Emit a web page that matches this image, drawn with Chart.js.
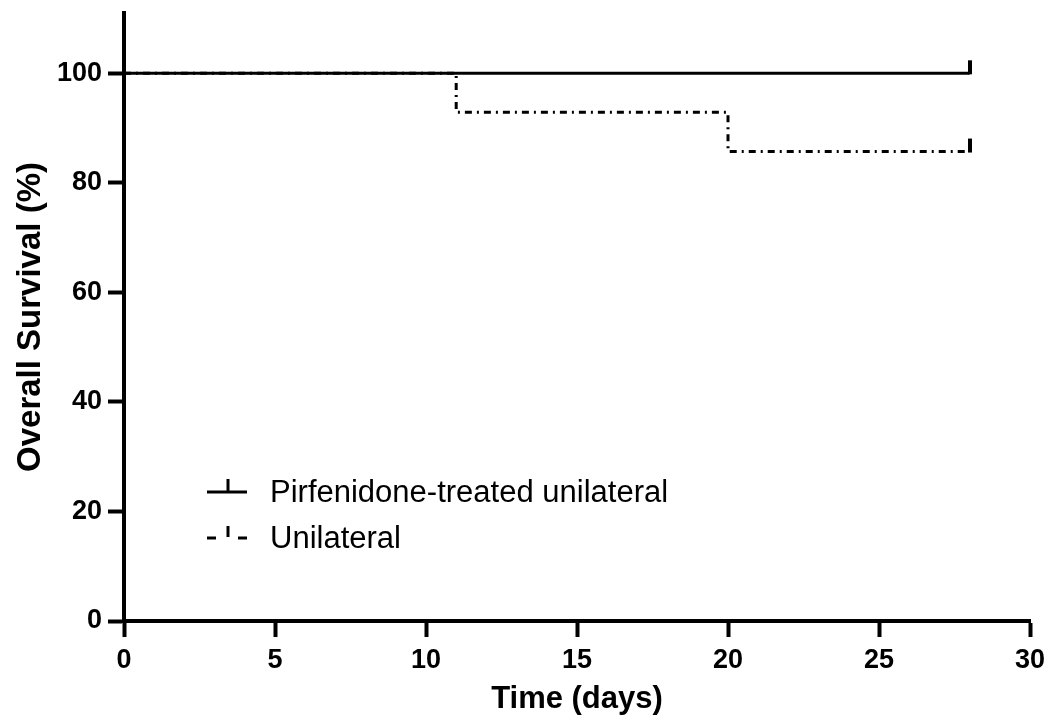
<!DOCTYPE html>
<html>
<head>
<meta charset="utf-8">
<script src="https://cdn.jsdelivr.net/npm/chart.js@4.4.1/dist/chart.umd.min.js"></script>
<style>
  body { margin: 0; background: #fff; }
  #wrap { width: 1050px; height: 726px; }
</style>
</head>
<body>
<div id="wrap"><canvas id="survivalChart" width="1050" height="726"></canvas></div>
<script>
const seriesLabels = ['Pirfenidone-treated unilateral', 'Unilateral'];

const pirfenidoneDays = [0, 28];
const pirfenidoneSurvival = [100, 100];

const unilateralDays = [0, 11, 20, 28];
const unilateralSurvival = [100, 92.86, 85.71, 85.71];

const censoredDays = [28];
const xTicks = [0, 5, 10, 15, 20, 25, 30];
const yTicks = [0, 20, 40, 60, 80, 100];

const fontFamily = '"Liberation Sans", Arial, sans-serif';
const unilateralDash = [7, 5, 2, 5];

// small vertical tick, drawn above the point, used as censor mark
function censorMark() {
  const c = document.createElement('canvas');
  c.width = 4;
  c.height = 28;
  const g = c.getContext('2d');
  g.fillStyle = '#000';
  g.fillRect(0, 1, 4, 14);
  return c;
}
const censorImage = censorMark();

function toPoints(days, values) {
  return days.map((d, i) => ({ x: d, y: values[i] }));
}

function censorRadius(ctx) {
  const p = ctx.raw;
  return p && censoredDays.includes(p.x) && ctx.dataIndex > 0 ? 3 : 0;
}

const kmLegend = {
  id: 'kmLegend',
  afterDraw(chart) {
    const ctx = chart.ctx;
    const rows = [492, 538];
    ctx.save();
    ctx.strokeStyle = '#000';
    ctx.lineWidth = 3;

    // solid entry
    ctx.beginPath();
    ctx.moveTo(207, rows[0]);
    ctx.lineTo(247, rows[0]);
    ctx.moveTo(228, rows[0]);
    ctx.lineTo(228, rows[0] - 13);
    ctx.stroke();

    // dash-dot entry
    ctx.beginPath();
    ctx.moveTo(207, rows[1]);
    ctx.lineTo(216, rows[1]);
    ctx.moveTo(238, rows[1]);
    ctx.lineTo(247, rows[1]);
    ctx.moveTo(228, rows[1] - 1);
    ctx.lineTo(228, rows[1] - 12);
    ctx.stroke();

    ctx.fillStyle = '#000';
    ctx.font = '31px ' + fontFamily;
    ctx.textBaseline = 'middle';
    ctx.textAlign = 'left';
    seriesLabels.forEach((label, i) => {
      ctx.fillText(label, 270, rows[i] + 1);
    });
    ctx.restore();
  },
};

new Chart(document.getElementById('survivalChart'), {
  type: 'line',
  data: {
    datasets: [
      {
        label: seriesLabels[1],
        data: toPoints(unilateralDays, unilateralSurvival),
        borderColor: '#000',
        borderWidth: 3,
        borderDash: unilateralDash,
        stepped: 'before',
        fill: false,
        pointStyle: censorImage,
        pointRadius: censorRadius,
        order: 2,
      },
      {
        label: seriesLabels[0],
        data: toPoints(pirfenidoneDays, pirfenidoneSurvival),
        borderColor: '#000',
        borderWidth: 3,
        stepped: 'before',
        fill: false,
        pointStyle: censorImage,
        pointRadius: censorRadius,
        order: 1,
      },
    ],
  },
  options: {
    responsive: false,
    animation: false,
    events: [],
    layout: {
      padding: { top: 13, right: 20, left: 0, bottom: 0 },
    },
    plugins: {
      legend: { display: false },
      tooltip: { enabled: false },
    },
    scales: {
      x: {
        type: 'linear',
        min: 0,
        max: 30,
        afterBuildTicks(scale) {
          scale.ticks = xTicks.map((v) => ({ value: v }));
        },
        afterFit(scale) {
          scale.height = 105;
          scale.paddingLeft = 0;
          scale.paddingRight = 0;
        },
        border: { display: true, color: '#000', width: 4 },
        grid: {
          drawOnChartArea: false,
          drawTicks: true,
          tickLength: 16,
          tickWidth: 4,
          tickColor: '#000',
        },
        ticks: {
          color: '#000',
          padding: 7,
          font: { family: fontFamily, size: 27, weight: 'bold' },
        },
        title: {
          display: true,
          text: 'Time (days)',
          color: '#000',
          padding: { bottom: 8 },
          font: { family: fontFamily, size: 31, weight: 'bold' },
        },
      },
      y: {
        type: 'linear',
        min: 0,
        max: 111,
        afterBuildTicks(scale) {
          scale.ticks = yTicks.map((v) => ({ value: v }));
        },
        afterFit(scale) {
          scale.width = 124;
          scale.paddingTop = 0;
          scale.paddingBottom = 0;
        },
        border: { display: true, color: '#000', width: 4 },
        grid: {
          drawOnChartArea: false,
          drawTicks: true,
          tickLength: 16,
          tickWidth: 4,
          tickColor: '#000',
        },
        ticks: {
          color: '#000',
          padding: 6,
          font: { family: fontFamily, size: 27, weight: 'bold' },
        },
        title: {
          display: true,
          text: 'Overall Survival (%)',
          color: '#000',
          padding: { top: 11 },
          font: { family: fontFamily, size: 33, weight: 'bold' },
        },
      },
    },
  },
  plugins: [kmLegend],
});
</script>
</body>
</html>
